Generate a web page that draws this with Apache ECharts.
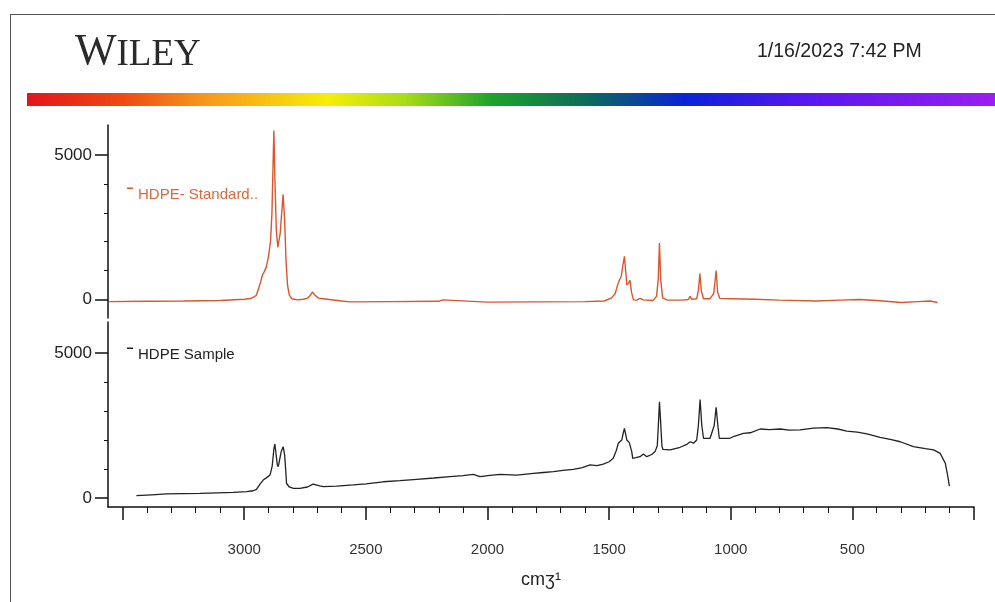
<!DOCTYPE html>
<html>
<head>
<meta charset="utf-8">
<title>HDPE Raman</title>
<script src="https://cdn.jsdelivr.net/npm/echarts@6/dist/echarts.min.js"></script>
<style>
body {
  margin: 0;
  padding: 0;
  background: #fff;
}
#chart {
  width: 995px;
  height: 602px;
}
</style>
</head>
<body>
<div id="chart"></div>
<script>
// wavenumber (cm-1) / intensity
const stdWn = [3555, 3400, 3250, 3100, 3000, 2975, 2960, 2950, 2940, 2932, 2925, 2918, 2910, 2900, 2892, 2886, 2882, 2878, 2874, 2868, 2862, 2858, 2852, 2846, 2840, 2834, 2828, 2822, 2815, 2805, 2780, 2757, 2740, 2730, 2720, 2710, 2695, 2675, 2600, 2565, 2400, 2200, 2185, 2178, 2000, 1800, 1600, 1520, 1490, 1475, 1465, 1458, 1450, 1443, 1437, 1432, 1427, 1420, 1414, 1408, 1400, 1385, 1373, 1360, 1320, 1305, 1298, 1293, 1288, 1280, 1260, 1200, 1175, 1167, 1160, 1140, 1133, 1127, 1121, 1112, 1085, 1070, 1060, 1054, 1045, 1000, 900, 800, 650, 550, 470, 400, 300, 230, 180, 150];
const stdInt = [-80, -70, -60, -40, 0, 25, 80, 140, 400, 620, 850, 950, 1100, 1500, 2000, 3000, 4500, 5860, 4200, 2400, 1800, 1780, 2300, 3000, 3640, 2750, 1300, 500, 150, 20, -20, 0, 40, 120, 250, 150, 40, 20, -60, -90, -80, -70, -20, -70, -100, -90, -80, -60, 50, 200, 500, 660, 800, 1200, 1490, 1000, 490, 560, 660, 250, -20, -30, 35, -20, -40, 100, 700, 1950, 700, 50, -30, -30, -10, 100, 0, 20, 300, 890, 300, 20, 20, 200, 1000, 250, 30, 20, 0, -30, -60, -30, -10, -40, -110, -80, -60, -110];

const smpWn = [3443, 3380, 3319, 3250, 3182, 3110, 3045, 2990, 2963, 2950, 2935, 2922, 2905, 2894, 2885, 2878, 2874, 2869, 2864, 2860, 2855, 2848, 2840, 2834, 2829, 2826, 2815, 2798, 2771, 2740, 2717, 2709, 2690, 2675, 2620, 2552, 2500, 2428, 2360, 2291, 2220, 2154, 2100, 2058, 2031, 1990, 1948, 1880, 1811, 1770, 1729, 1690, 1647, 1610, 1578, 1550, 1524, 1500, 1483, 1470, 1462, 1448, 1443, 1437, 1432, 1427, 1417, 1411, 1407, 1403, 1390, 1373, 1359, 1345, 1325, 1311, 1302, 1297, 1293, 1288, 1283, 1279, 1249, 1208, 1180, 1167, 1153, 1140, 1133, 1126, 1119, 1112, 1085, 1068, 1060, 1053, 1047, 1003, 989, 948, 920, 879, 840, 797, 760, 715, 660, 605, 560, 523, 480, 440, 386, 340, 303, 249, 200, 166, 139, 118, 110, 101];
const smpInt = [80, 110, 140, 150, 160, 180, 195, 220, 250, 300, 480, 620, 720, 790, 1100, 1700, 1860, 1500, 1150, 1080, 1300, 1600, 1770, 1500, 900, 500, 380, 335, 335, 380, 480, 505, 420, 390, 410, 450, 490, 560, 600, 645, 690, 735, 770, 815, 735, 780, 815, 790, 850, 880, 910, 950, 990, 1050, 1140, 1120, 1170, 1250, 1370, 1650, 1890, 2000, 2200, 2400, 2200, 2000, 1910, 1890, 1600, 1370, 1390, 1425, 1520, 1425, 1500, 1600, 1800, 2600, 3320, 2600, 1800, 1680, 1660, 1750, 1850, 1940, 1890, 2000, 2500, 3400, 2500, 2060, 2060, 2500, 3130, 2500, 2060, 2060, 2120, 2230, 2250, 2380, 2360, 2380, 2340, 2350, 2410, 2430, 2380, 2310, 2270, 2210, 2090, 2010, 1940, 1770, 1700, 1660, 1540, 1200, 850, 410];

const xMajor = [0, 500, 1000, 1500, 2000, 2500, 3000, 3500];
const xLabels = [500, 1000, 1500, 2000, 2500, 3000];
const yMajor = [0, 5000];
const yMinor = [1000, 2000, 3000, 4000];

const xMinor = [];
for (let v = 100; v < 3500; v += 100) {
  if (v % 500 !== 0) xMinor.push(v);
}

const font = 'Liberation Sans';
const X_MAX = 3560;
// short dash sitting at the top of the legend item box
const dashIcon = 'path://M0,0H6V1.5H0Z M0,14H6V14.01H0Z';

const chart = echarts.init(document.getElementById('chart'));

const xBase = {
  type: 'value',
  min: 0,
  max: X_MAX,
  inverse: true,
  splitLine: { show: false }
};

const yAxisPair = (grid, min, max) => [
  {
    type: 'value', gridIndex: grid, position: 'left', min: min, max: max,
    splitLine: { show: false },
    axisLine: { show: true, onZero: false, lineStyle: { color: '#111', width: 1.5 } },
    axisTick: { show: true, length: 13, customValues: yMajor, lineStyle: { color: '#111', width: 1.5 } },
    axisLabel: { customValues: yMajor, margin: 16, color: '#222', fontSize: 17, fontFamily: font, formatter: v => String(v) }
  },
  {
    type: 'value', gridIndex: grid, position: 'left', min: min, max: max,
    splitLine: { show: false },
    axisLine: { show: false, onZero: false },
    axisTick: { show: true, length: 4, customValues: yMinor, lineStyle: { color: '#111', width: 1 } },
    axisLabel: { show: false }
  }
];

chart.setOption({
  animation: false,
  backgroundColor: '#fff',
  graphic: [
    { type: 'line', shape: { x1: 10, y1: 14.5, x2: 995, y2: 14.5 }, style: { stroke: '#555', lineWidth: 1 } },
    { type: 'line', shape: { x1: 10.5, y1: 14, x2: 10.5, y2: 602 }, style: { stroke: '#555', lineWidth: 1 } },
    {
      type: 'text', left: 75, top: 30,
      style: {
        text: '{w|W}{r|ILEY}',
        fill: '#333',
        rich: {
          w: { fontSize: 44, fontFamily: 'Liberation Serif', fill: '#2a2a2a', verticalAlign: 'bottom' },
          r: { fontSize: 37, fontFamily: 'Liberation Serif', fill: '#2a2a2a', verticalAlign: 'bottom' }
        }
      }
    },
    {
      type: 'text', left: 757, top: 42,
      style: { text: '1/16/2023 7:42 PM', fontSize: 19.5, fontFamily: font, fill: '#222' }
    },
    {
      type: 'rect', shape: { x: 27, y: 93, width: 968, height: 13 },
      style: {
        fill: new echarts.graphic.LinearGradient(0, 0, 1, 0, [
          { offset: 0, color: '#e3141c' },
          { offset: 0.1, color: '#ef4a14' },
          { offset: 0.18, color: '#f7941d' },
          { offset: 0.31, color: '#f5ee0a' },
          { offset: 0.39, color: '#a8dc16' },
          { offset: 0.48, color: '#1fa22c' },
          { offset: 0.58, color: '#0d6a5a' },
          { offset: 0.68, color: '#0b22d8' },
          { offset: 0.8, color: '#5518ee' },
          { offset: 1, color: '#9a1ff0' }
        ])
      }
    }
  ],
  legend: [
    {
      data: ['HDPE- Standard..'], left: 122, top: 182, icon: dashIcon, itemWidth: 6, itemHeight: 14,
      textStyle: { color: '#e0673a', fontSize: 15, fontFamily: font }
    },
    {
      data: ['HDPE Sample'], left: 122, top: 342, icon: dashIcon, itemWidth: 6, itemHeight: 14,
      textStyle: { color: '#222', fontSize: 15, fontFamily: font }
    }
  ],
  grid: [
    { left: 108, right: 21, top: 125, bottom: 284 },
    { left: 108, right: 21, top: 322, bottom: 95 }
  ],
  xAxis: [
    Object.assign({}, xBase, { gridIndex: 0, show: false }),
    Object.assign({}, xBase, {
      gridIndex: 1, position: 'bottom',
      name: 'cm\u0292\u00b9', nameLocation: 'middle', nameGap: 64,
      nameTextStyle: { color: '#222', fontSize: 18, fontFamily: font },
      axisLine: { show: true, onZero: false, lineStyle: { color: '#111', width: 1.5 } },
      axisTick: { show: true, length: 13, customValues: xMajor, lineStyle: { color: '#111', width: 1.5 } },
      axisLabel: { customValues: xLabels, margin: 35, color: '#333', fontSize: 15, fontFamily: font, formatter: v => String(v) }
    }),
    Object.assign({}, xBase, {
      gridIndex: 1, position: 'bottom',
      axisLine: { show: false, onZero: false },
      axisTick: { show: true, length: 6, customValues: xMinor, lineStyle: { color: '#111', width: 1 } },
      axisLabel: { show: false }
    })
  ],
  yAxis: [].concat(yAxisPair(0, -650, 6050), yAxisPair(1, -310, 6070)),
  series: [
    {
      name: 'HDPE- Standard..',
      type: 'line',
      xAxisIndex: 0,
      yAxisIndex: 0,
      showSymbol: false,
      color: '#d9572b',
      lineStyle: { width: 1.4, color: '#d9572b' },
      data: stdWn.map((w, i) => [w, stdInt[i]])
    },
    {
      name: 'HDPE Sample',
      type: 'line',
      xAxisIndex: 1,
      yAxisIndex: 2,
      showSymbol: false,
      color: '#222',
      lineStyle: { width: 1.3, color: '#222' },
      data: smpWn.map((w, i) => [w, smpInt[i]])
    }
  ]
});
</script>
</body>
</html>
